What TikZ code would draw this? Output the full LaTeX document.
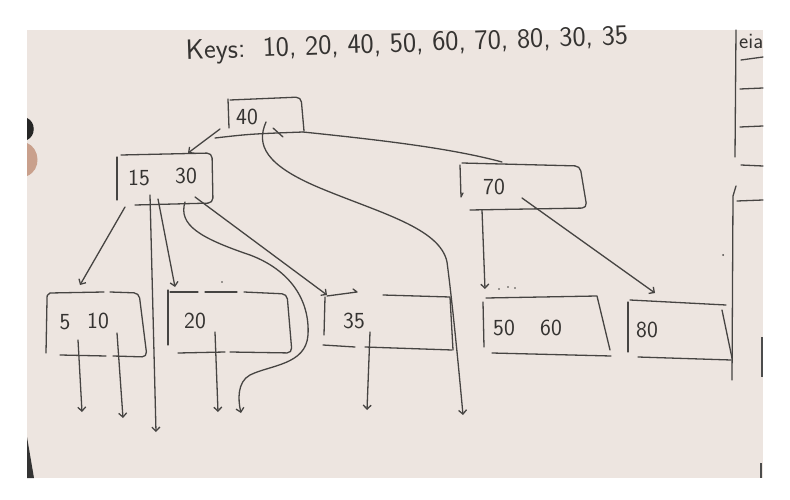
\documentclass[tikz,border=0pt]{standalone}
\usetikzlibrary{arrows.meta}
\definecolor{board}{HTML}{EDE5E0}
\definecolor{ink}{HTML}{464442}
\definecolor{txt}{HTML}{353331}
\definecolor{skin}{HTML}{C9A08C}
\tikzset{
  pen/.style={draw=ink, line width=1.3pt, line cap=round, line join=round},
  boxpen/.style={pen, rounded corners=5pt},
  arr/.style={pen, -{Straight Barb[length=4pt,width=8pt]}},
  lbl/.style={inner sep=0pt, text=txt, font=\sffamily\fontsize{23}{23}\selectfont},
  ttl/.style={inner sep=0pt, text=txt, font=\sffamily\fontsize{28}{28}\selectfont}
}
\begin{document}
\begin{tikzpicture}[x=1pt,y=-1pt]
\useasboundingbox (0,0) rectangle (790,500);
\fill[white] (0,0) rectangle (790,500);
\fill[board] (27,30) rectangle (763,478);
% edges of the photo
\fill[black!85] (27,118) .. controls (36,122) and (36,136) .. (27,140) -- cycle;
\fill[skin] (27,143) .. controls (40,148) and (42,170) .. (27,176) -- cycle;
\fill[black!80] (27,437) -- (34,478) -- (27,478) -- cycle;
\draw[black!70, line width=1.5pt] (762,337) -- (762,377);
\draw[black!70, line width=1.5pt] (761,463) -- (761,478);

% title
\node[ttl, rotate=2] (t) at (407,45) {Keys:\ \ 10, 20, 40, 50, 60, 70, 80, 30, 35};

% right-hand panel
\begin{scope}
\clip (27,30) rectangle (763,478);
\node[ttl, anchor=west, font=\sffamily\fontsize{22}{22}\selectfont] (e) at (739,41) {eia};
\end{scope}
\draw[pen] (736,30) -- (735,157);
\draw[pen] (741,60) -- (763,57);
\draw[pen] (740,89) -- (763,88);
\draw[pen] (740,127) -- (763,126);
\draw[pen] (741,165) -- (763,166);
\draw[pen] (737,201) -- (763,200);
\draw[pen] (736,186) -- (733,196) -- (732,380);
\fill[ink] (723,255) circle (1pt);

% root 40
\node[lbl] (r) at (247,117) {40};
\draw[pen] (228,99) -- (229,128);
\draw[boxpen] (230,100) -- (301,97) -- (304,131);
\draw[pen] (215,138) .. controls (250,134) .. (303,132);
\draw[pen] (273,128) -- (283,137);

% inner 15 30
\node[lbl] (i1) at (139,178) {15};
\node[lbl] (i1b) at (186,176) {30};
\draw[pen] (117,157) -- (117,200);
\draw[boxpen] (121,155) -- (212,153) -- (213,203) -- (135,205);

% inner 70
\node[lbl] (i2) at (494,187) {70};
\draw[pen] (460,165) -- (461,197) -- (463,193);
\draw[boxpen] (462,163) -- (580,166) -- (587,208) -- (470,210);

% leaf 5 10
\node[lbl] (l1) at (65,322) {5};
\node[lbl] (l1b) at (98,321) {10};
\draw[pen] (50,293) .. controls (47,295) .. (47,300) -- (46,353);
\draw[pen] (50,293) -- (104,292);
\draw[boxpen] (110,292) -- (139,293) -- (147,357) -- (113,356);
\draw[pen] (106,356) -- (60,355);

% leaf 20
\node[lbl] (l2) at (195,321) {20};
\draw[pen] (168,290) -- (168,345);
\draw[pen] (170,292) -- (198,292);
\draw[pen] (205,292) -- (237,292);
\draw[boxpen] (244,292) -- (287,294) -- (292,353) -- (230,352);
\draw[pen] (225,352) -- (178,353);
\fill[ink] (222,282) circle (0.8pt);

% leaf 35
\node[lbl] (l3) at (354,321) {35};
\draw[pen] (325,297) -- (324,335);
\draw[pen] (327,296) -- (357,292) -- (353,289);
\draw[pen] (383,295) -- (450,297) -- (453,350);
\draw[pen] (323,345) -- (355,347);
\draw[pen] (365,347) -- (452,350);

% leaf 50 60
\node[lbl] (l4) at (504,328) {50};
\node[lbl] (l4b) at (551,328) {60};
\draw[pen] (483,302) -- (484,347);
\draw[pen] (486,298) -- (597,296) -- (610,350);
\draw[pen] (492,353) -- (611,356);
\fill[ink] (499,289) circle (0.8pt) (508,287) circle (0.8pt) (515,288) circle (0.8pt);

% leaf 80
\node[lbl] (l5) at (647,330) {80};
\draw[pen] (628,302) -- (628,352);
\draw[pen] (630,300) -- (726,305);
\draw[pen] (722,310) -- (732,358);
\draw[pen] (638,357) -- (731,360);

% connector coordinates
\coordinate (r-l) at (220,129);
\coordinate (i1-t) at (188,153);
\coordinate (r-r) at (303,132);
\coordinate (i2-t) at (502,162);
\coordinate (r-c) at (266,122);
\coordinate (r-end) at (463,415);
\coordinate (i1-p0) at (125,207);
\coordinate (l1-t) at (80,285);
\coordinate (i1-p1) at (150,195);
\coordinate (i1-end) at (156,432);
\coordinate (i1-p2) at (158,199);
\coordinate (l2-t) at (175,287);
\coordinate (i1-p3) at (185,202);
\coordinate (i1-end3) at (241,413);
\coordinate (i1-p4) at (195,197);
\coordinate (l3-t) at (327,295);
\coordinate (i2-p0) at (482,210);
\coordinate (l4-t) at (485,289);
\coordinate (i2-p1) at (522,198);
\coordinate (l5-t) at (655,293);
\coordinate (l1-p0) at (78,340);
\coordinate (l1-e0) at (82,412);
\coordinate (l1-p1) at (117,333);
\coordinate (l1-e1) at (123,418);
\coordinate (l2-p0) at (215,332);
\coordinate (l2-e0) at (218,412);
\coordinate (l3-p0) at (370,332);
\coordinate (l3-e0) at (367,410);

% connectors
\draw[arr] (r-l) -- (i1-t);
\draw[pen] (r-r) .. controls (380,140) and (450,148) .. (i2-t);
\draw[arr] (r-c) .. controls (256,145) and (265,165) .. (320,188)
  .. controls (380,213) and (440,228) .. (447,262)
  .. controls (452,300) and (458,360) .. (r-end);
\draw[arr] (i1-p0) -- (l1-t);
\draw[arr] (i1-p1) -- (i1-end);
\draw[arr] (i1-p2) -- (l2-t);
\draw[arr] (i1-p3) .. controls (178,225) and (200,238) .. (250,255)
  .. controls (290,270) and (310,300) .. (308,335)
  .. controls (306,365) and (270,365) .. (250,375)
  .. controls (237,382) and (238,400) .. (i1-end3);
\draw[arr] (i1-p4) -- (l3-t);
\draw[arr] (i2-p0) -- (l4-t);
\draw[arr] (i2-p1) -- (l5-t);
\draw[arr] (l1-p0) -- (l1-e0);
\draw[arr] (l1-p1) -- (l1-e1);
\draw[arr] (l2-p0) -- (l2-e0);
\draw[arr] (l3-p0) -- (l3-e0);
\end{tikzpicture}
\end{document}
